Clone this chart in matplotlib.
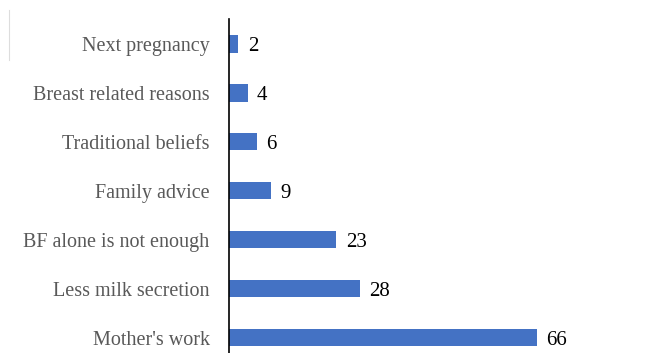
import matplotlib
matplotlib.use("Agg")
import matplotlib.pyplot as plt

categories = ["Mother's work", "Less milk secretion", "BF alone is not enough",
              "Family advice", "Traditional beliefs", "Breast related reasons",
              "Next pregnancy"]
values = [66, 28, 23, 9, 6, 4, 2]

plt.rcParams['font.family'] = ['Liberation Serif', 'DejaVu Serif']

fig = plt.figure(figsize=(6.52, 3.53), dpi=100)
ax = fig.add_axes([229/652, 0, 420/652, 334/353])
y = list(range(len(categories)))
ax.barh(y, values, height=0.35, color='#4472C4')
ax.set_xlim(0, 90)
ax.set_ylim(-0.31, 6.51)
ax.set_yticks(y)
ax.set_yticklabels(categories, fontsize=14.5, color='#595959')
ax.tick_params(axis='y', length=0, pad=14)
ax.set_xticks([])
for s in ['top', 'right', 'bottom']:
    ax.spines[s].set_visible(False)
ax.spines['left'].set_linewidth(1.2)
ax.spines['left'].set_color('black')
for yi, v in zip(y, values):
    ax.text(v + 2.0, yi - 0.05, str(v), va='center', ha='left', fontsize=15, color='black')

fig.add_artist(plt.Line2D([9/652, 9/652], [1 - 60/353, 1 - 10/353], color='#dddddd', lw=0.8))
fig.savefig('out.png', dpi=100)
